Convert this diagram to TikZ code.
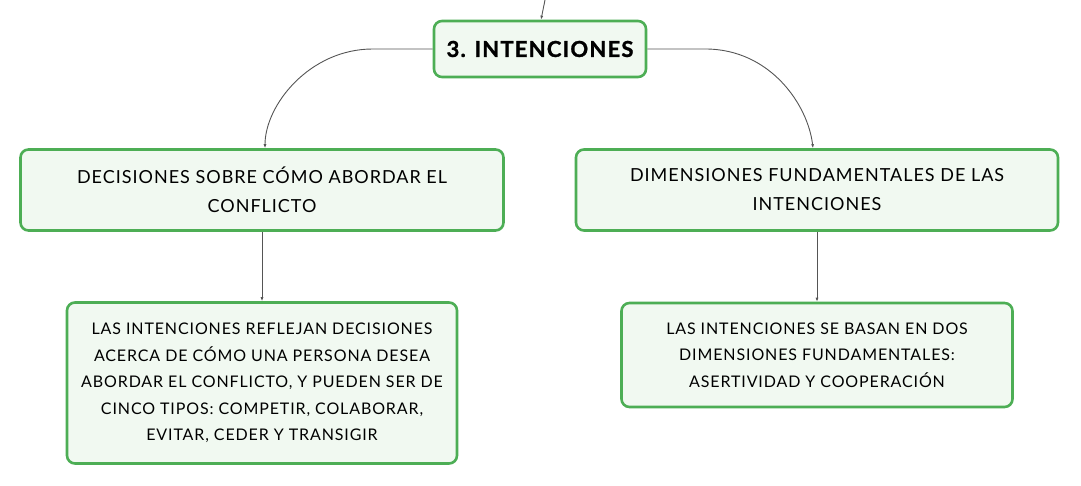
\documentclass[tikz,border=0pt]{standalone}
\usepackage{fontspec}
\setmainfont{Lato}[LetterSpace=5.5]
\usepackage{tikz}
\definecolor {leafgreen}{HTML}{4DAE55}
\definecolor {leaffill}{HTML}{F1F9F1}
\definecolor {linkgray}{HTML}{555555}
\usetikzlibrary {positioning,arrows.meta}

\begin{document}
\begin{tikzpicture}[x=1pt ,y=-1pt ,node distance =141pt and 278pt ,on grid ,
link/.style ={ -{Latex[length=4pt,width=3pt]} ,draw=linkgray ,line width=0.9pt},
topic/.style ={ rectangle ,rounded corners=8pt ,fill=leaffill ,
draw=leafgreen ,line width=2.6pt ,align=center ,inner sep=0pt}]
  \useasboundingbox (0,0) rectangle (1081,486);
  \node[topic ,minimum width=212pt ,minimum height=56pt ,
    font=\fontsize{22}{26}\selectfont\bfseries\addfontfeature{FakeBold=1.2}](intent) at (540,49){3. INTENCIONES};
  \node[topic ,minimum width=483pt ,minimum height=81pt ,
    font=\fontsize{18}{29}\selectfont](decide)[below left = 141pt and 278pt of intent]
    {DECISIONES SOBRE CÓMO ABORDAR EL\\CONFLICTO};
  \node[topic ,minimum width=482pt ,minimum height=81pt ,
    font=\fontsize{18}{29}\selectfont](dims)[below right = 141pt and 277pt of intent]
    {DIMENSIONES FUNDAMENTALES DE LAS\\INTENCIONES};
  \node[topic ,minimum width=390pt ,minimum height=161pt ,
    font=\fontsize{16}{26.5}\selectfont](decidetxt)[below = 193pt of decide]
    {LAS INTENCIONES REFLEJAN DECISIONES\\ACERCA DE CÓMO UNA PERSONA DESEA\\
     ABORDAR EL CONFLICTO, Y PUEDEN SER DE\\CINCO TIPOS: COMPETIR, COLABORAR,\\
     EVITAR, CEDER Y TRANSIGIR};
  \node[topic ,minimum width=391pt ,minimum height=104pt ,
    font=\fontsize{16}{26.5}\selectfont](dimstxt)[below = 165pt of dims]
    {LAS INTENCIONES SE BASAN EN DOS\\DIMENSIONES FUNDAMENTALES:\\
     ASERTIVIDAD Y COOPERACIÓN};
  \coordinate (parent) at (545,0);
  \draw[link] (parent) -- ([xshift=1pt]intent.north);
  \draw[link] (intent.west) -- ++(-60,0) .. controls ++(-63,0) and (265,105) .. ([xshift=3pt]decide.north);
  \draw[link] (intent.east) -- ++(58,0) .. controls ++(65,0) and (808,105) .. ([xshift=-4pt]dims.north);
  \path (decide) edge [link] (decidetxt);
  \path (dims) edge [link] (dimstxt);
\end{tikzpicture}
\end{document}
